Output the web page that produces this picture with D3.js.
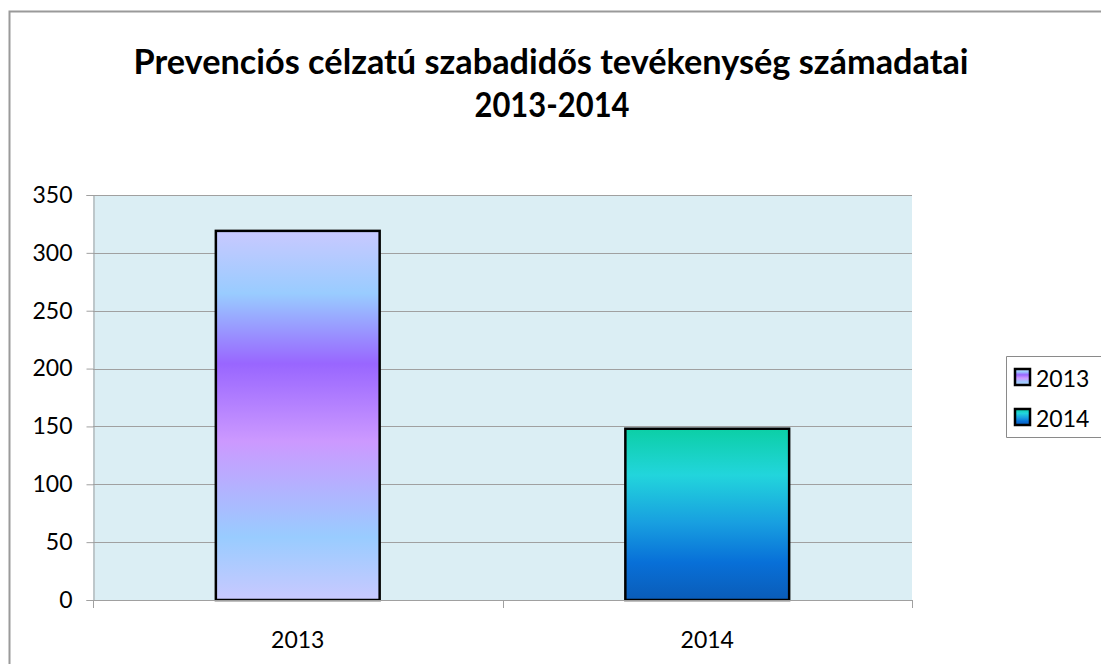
<!DOCTYPE html>
<html><head><meta charset="utf-8">
<script src="https://cdn.jsdelivr.net/npm/d3@7/dist/d3.min.js"></script>
<style>
html,body{margin:0;padding:0;background:#fff;overflow:hidden;width:1101px;height:664px;}
svg{display:block;font-family:Lato,"Open Sans",sans-serif;}
</style></head>
<body>
<svg id="chart" width="1101" height="664"></svg>
<script>
const titleLines = ["Prevenciós célzatú szabadidős tevékenység számadatai", "2013-2014"];
const categories = ["2013", "2014"];
const seriesNames = ["2013", "2014"];
const values = [319, 148];
const yTicks = [0, 50, 100, 150, 200, 250, 300, 350];
const gradientStops = [
  [[0, "#c9c9ff"], [0.17, "#99ccff"], [0.36, "#9966ff"], [0.57, "#cc99ff"], [0.83, "#99ccff"], [1, "#c9c9ff"]],
  [[0, "#0ccfa6"], [0.27, "#22d5dc"], [0.55, "#189fe0"], [0.78, "#0870d8"], [1, "#0a5cb8"]]
];

const svg = d3.select("#chart");
const W = 1101, H = 664;
const plot = {left: 93, right: 912, top: 195, bottom: 600};

// outer frame (left and top edges visible)
svg.append("path").attr("d", `M9.5,${H} L9.5,11.5 L${W},11.5`)
  .attr("fill", "none").attr("stroke", "#9a9a9a").attr("stroke-width", 2);

const defs = svg.append("defs");
gradientStops.forEach((stops, i) => {
  const g = defs.append("linearGradient").attr("id", "grad" + i)
    .attr("x1", 0).attr("y1", 0).attr("x2", 0).attr("y2", 1);
  stops.forEach(s => g.append("stop").attr("offset", s[0]).attr("stop-color", s[1]));
});

// title
const title = svg.append("g");
const tfs = 34;
title.append("text").attr("x", 551).attr("y", 74).attr("text-anchor", "middle")
  .attr("font-weight", "bold").attr("font-size", tfs).attr("fill", "#000")
  .attr("textLength", 835).attr("lengthAdjust", "spacingAndGlyphs").text(titleLines[0]);
title.append("text").attr("x", 552).attr("y", 117).attr("text-anchor", "middle")
  .attr("font-weight", "bold").attr("font-size", tfs).attr("fill", "#000")
  .attr("textLength", 155).attr("lengthAdjust", "spacingAndGlyphs").text(titleLines[1]);

// scales
const x = d3.scaleBand().domain(categories).range([plot.left, plot.right]).paddingInner(0.6).paddingOuter(0.3);
const xb = d3.scaleBand().domain(categories).range([plot.left, plot.right]).padding(0);
const y = d3.scaleLinear().domain([0, 350]).range([plot.bottom, plot.top]);

// plot area
svg.append("rect").attr("x", plot.left).attr("y", plot.top)
  .attr("width", plot.right - plot.left).attr("height", plot.bottom - plot.top).attr("fill", "#dbeef4");

// gridlines
svg.append("g").selectAll("line").data(yTicks.filter(d => d > 0)).join("line")
  .attr("x1", plot.left).attr("x2", plot.right)
  .attr("y1", d => Math.round(y(d)) + 0.5).attr("y2", d => Math.round(y(d)) + 0.5)
  .attr("stroke", "#a0a0a0").attr("stroke-width", 1);

// y axis
const yAxis = svg.append("g").attr("transform", `translate(${plot.left + 0.5},0)`)
  .call(d3.axisLeft(y).tickValues(yTicks).tickSize(7).tickPadding(14).tickFormat(d3.format("d")));
yAxis.select(".domain").attr("stroke", "#a0a0a0");
yAxis.selectAll(".tick line").attr("stroke", "#a0a0a0");
yAxis.selectAll(".tick text").attr("font-size", 23).attr("fill", "#000")
  .attr("font-family", "Lato,'Open Sans',sans-serif");

// bars
svg.append("g").selectAll("rect").data(values).join("rect")
  .attr("x", (d, i) => x(categories[i]))
  .attr("y", d => y(d))
  .attr("width", x.bandwidth())
  .attr("height", d => y(0) - y(d))
  .attr("fill", (d, i) => `url(#grad${i})`)
  .attr("stroke", "#000").attr("stroke-width", 2.5);

// x axis
const xAxisTicks = [plot.left, ...categories.slice(1).map(c => xb(c)), plot.right];
const xAxis = svg.append("g");
xAxis.append("line").attr("x1", plot.left).attr("x2", plot.right)
  .attr("y1", plot.bottom + 0.5).attr("y2", plot.bottom + 0.5).attr("stroke", "#a0a0a0");
xAxis.selectAll("line.tk").data(xAxisTicks).join("line").attr("class", "tk")
  .attr("x1", d => Math.round(d) + 0.5).attr("x2", d => Math.round(d) + 0.5)
  .attr("y1", plot.bottom).attr("y2", plot.bottom + 8).attr("stroke", "#a0a0a0");
xAxis.selectAll("text").data(categories).join("text")
  .attr("x", d => xb(d) + xb.bandwidth() / 2).attr("y", 648)
  .attr("text-anchor", "middle").attr("font-size", 23).attr("fill", "#000").text(d => d);

// legend
const lg = svg.append("g");
lg.append("path").attr("d", "M1101,356.5 L1006.5,356.5 L1006.5,437.5 L1101,437.5")
  .attr("fill", "#fff").attr("stroke", "#8a8a8a").attr("stroke-width", 1);
seriesNames.forEach((s, i) => {
  const yy = 369 + i * 40;
  lg.append("rect").attr("x", 1015).attr("y", yy).attr("width", 15).attr("height", 16)
    .attr("fill", `url(#grad${i})`).attr("stroke", "#000").attr("stroke-width", 2.5);
  lg.append("text").attr("x", 1036).attr("y", yy + 18).attr("font-size", 23).attr("fill", "#000").text(s);
});
</script>
</body></html>
